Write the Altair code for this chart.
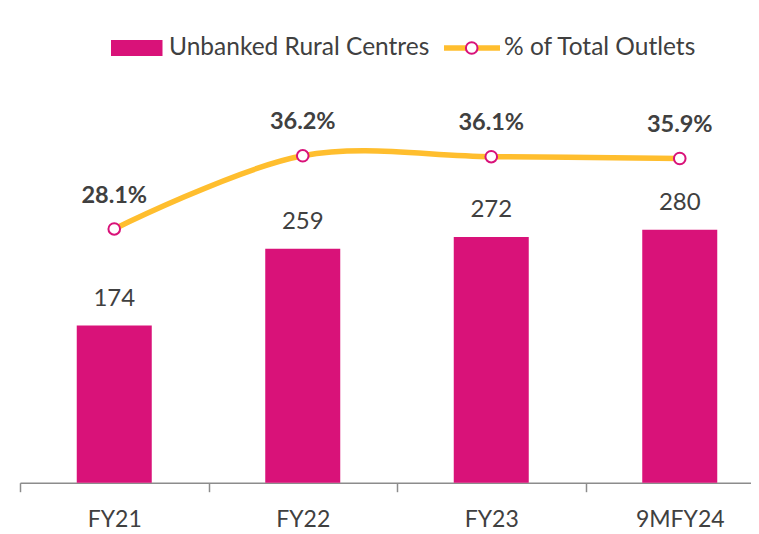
import altair as alt
import pandas as pd

categories = ["FY21", "FY22", "FY23", "9MFY24"]
centres = [174, 259, 272, 280]
pct_outlets = [28.1, 36.2, 36.1, 35.9]

BAR = "#D91279"
LINE = "#FFBE2E"
TXT = "#404040"
FONT = "Lato"

df = pd.DataFrame({"period": categories, "centres": centres, "pct": pct_outlets})

x = alt.X(
    "period:N",
    sort=categories,
    scale=alt.Scale(range=[0, 754], paddingInner=0, paddingOuter=0),
    axis=alt.Axis(
        title=None, tickBand="extent", tickSize=9, tickColor="#8c8c8c",
        domainColor="#8c8c8c", domainWidth=1.5, tickWidth=1.5,
        labelFontSize=23, labelColor=TXT, labelFont=FONT, labelPadding=17,
        labelAngle=0,
    ),
)

base = alt.Chart(df)

ybar = alt.Y("centres:Q", scale=alt.Scale(domain=[0, 460], nice=False, zero=True), axis=None)
bars = base.mark_bar(width=75, color=BAR).encode(x=x, y=ybar)
bar_text = base.mark_text(dy=-26.7, fontSize=24, font=FONT, color=TXT).encode(
    x=x, y=ybar, text="centres:Q"
)

ypct = alt.Y("pct:Q", scale=alt.Scale(domain=[0, 46], nice=False, zero=True), axis=None)
line = base.mark_line(interpolate="catmull-rom", color=LINE, strokeWidth=5.5).encode(x=x, y=ypct)
points = base.mark_point(
    shape="circle", filled=True, fill="white", stroke=BAR, strokeWidth=2, size=135, opacity=1
).encode(x=x, y=ypct)
pct_text = base.transform_calculate(
    label="format(datum.pct, '.1f') + '%'"
).mark_text(dy=-33.4, fontSize=23.5, fontWeight="bold", font=FONT, color=TXT).encode(
    x=x, y=ypct, text="label:N"
)

leg = alt.Chart(pd.DataFrame({"k": [0]}))
leg_rect = leg.mark_rect(color=BAR).encode(
    x=alt.value(91), x2=alt.value(142.5), y=alt.value(-27.3), y2=alt.value(-11.3)
)
leg_text1 = leg.mark_text(align="left", baseline="middle", fontSize=24.5, font=FONT, color=TXT).encode(
    x=alt.value(149), y=alt.value(-19.3), text=alt.value("Unbanked Rural Centres")
)
leg_rule = leg.mark_rule(color=LINE, strokeWidth=5.5).encode(
    x=alt.value(424), x2=alt.value(480), y=alt.value(-19.3)
)
leg_point = leg.mark_point(
    shape="circle", filled=True, fill="white", stroke=BAR, strokeWidth=2, size=135, opacity=1
).encode(x=alt.value(451.7), y=alt.value(-19.3))
leg_text2 = leg.mark_text(align="left", baseline="middle", fontSize=24.5, font=FONT, color=TXT).encode(
    x=alt.value(484), y=alt.value(-19.3), text=alt.value("% of Total Outlets")
)

chart = alt.layer(
    alt.layer(bars, bar_text),
    alt.layer(line, points, pct_text),
    leg_rect, leg_text1, leg_rule, leg_point, leg_text2,
).resolve_scale(y="independent").properties(
    width=731,
    height=415.4,
    autosize=alt.AutoSizeParams(type="none"),
    padding={"left": 12, "top": 59.3, "right": 0, "bottom": 51.3},
    background="white",
).configure_view(stroke=None)

chart.save("out.html", embed_options={"renderer": "svg", "actions": False})
